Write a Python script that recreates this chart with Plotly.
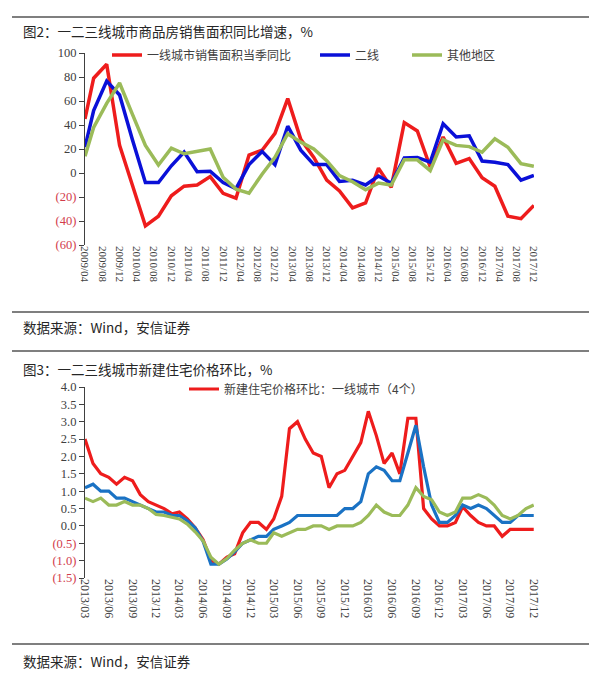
import plotly.graph_objects as go
import pandas as pd

W, H = 600, 677

# ---------------- Figure 2 data (quarterly, % YoY) ----------------
TOP_DATES = ["2009-04", "2009-06", "2009-09", "2009-12", "2010-03", "2010-06", "2010-09", "2010-12",
             "2011-03", "2011-06", "2011-09", "2011-12", "2012-03", "2012-06", "2012-09", "2012-12",
             "2013-03", "2013-06", "2013-09", "2013-12", "2014-03", "2014-06", "2014-09", "2014-12",
             "2015-03", "2015-06", "2015-09", "2015-12", "2016-03", "2016-06", "2016-09", "2016-12",
             "2017-03", "2017-06", "2017-09", "2017-12"]
TOP_TIER1 = [45, 79, 90.6, 23, -10, -44, -36, -19, -11, -10, -3, -17, -21, 15, 19, 33,
             62, 28, 13, -6, -15, -29, -25, 4, -12, 42, 35, 5, 30, 8, 12, -4, -11, -36, -38, -27]
TOP_TIER2 = [21.5, 52, 76.6, 65, 28, -8, -8, 6, 17.5, 1, 1.5, -8, -13, 7, 18, 7,
             39, 19, 7, 7, -7, -6, -10, -2.5, -8.5, 12.6, 13, 9, 41, 30, 31, 10, 9, 7, -6, -2]
TOP_OTHER = [14, 38, 58, 75, 49, 23, 6.7, 20.7, 16, 18, 20, -3.6, -13.4, -16.8, -1, 13,
             32.7, 25.7, 20, 10.3, -2.2, -7.3, -14, -8.4, -10, 11, 11, 2, 27.7, 23, 22, 17.3,
             28.5, 21.5, 7.8, 5.6]
TOP_NAMES = ["一线城市销售面积当季同比", "二线", "其他地区"]
TOP_Y_TICKS = [-60, -40, -20, 0, 20, 40, 60, 80, 100]
TOP_Y_LABELS = ["(60)", "(40)", "(20)", "0", "20", "40", "60", "80", "100"]
TOP_X_START, TOP_X_END = "2009-04-01", "2017-12-02"

# ---------------- Figure 3 data (monthly, % MoM) ----------------
BOT_DATES = [d.strftime("%Y-%m") for d in pd.date_range("2013-03-01", "2017-12-01", freq="MS")]
BOT_TIER1 = [2.5, 1.8, 1.5, 1.4, 1.2, 1.4, 1.3, 0.9, 0.7, 0.6, 0.5, 0.35, 0.4, 0.2, -0.05, -0.4,
             -1.0, -1.1, -0.9, -0.8, -0.2, 0.1, 0.1, -0.1, 0.2, 0.85, 2.8, 3.0, 2.5, 2.1, 2.0, 1.1,
             1.5, 1.6, 2.0, 2.4, 3.3, 2.6, 1.8, 2.1, 1.5, 3.1, 3.1, 0.5, 0.2, 0.0, 0.0, 0.1,
             0.55, 0.3, 0.1, 0.0, 0.0, -0.3, -0.1, -0.1, -0.1, -0.1]
BOT_TIER2 = [1.1, 1.2, 1.0, 1.0, 0.8, 0.8, 0.7, 0.6, 0.5, 0.4, 0.4, 0.3, 0.3, 0.15, -0.05, -0.45,
             -1.1, -1.1, -0.95, -0.75, -0.5, -0.4, -0.3, -0.3, -0.1, 0.0, 0.1, 0.3, 0.3, 0.3, 0.3, 0.3,
             0.3, 0.5, 0.5, 0.7, 1.5, 1.7, 1.6, 1.3, 1.3, 2.1, 2.9, 1.7, 0.6, 0.1, 0.1, 0.3,
             0.6, 0.5, 0.6, 0.5, 0.3, 0.1, 0.1, 0.3, 0.3, 0.3]
BOT_TIER3 = [0.8, 0.7, 0.8, 0.6, 0.6, 0.7, 0.6, 0.6, 0.5, 0.33, 0.3, 0.25, 0.2, 0.05, -0.17, -0.43,
             -0.9, -1.1, -0.94, -0.7, -0.5, -0.4, -0.5, -0.5, -0.2, -0.3, -0.2, -0.1, -0.1, 0.0, 0.0, -0.1,
             0.0, 0.0, 0.0, 0.1, 0.3, 0.6, 0.4, 0.3, 0.3, 0.6, 1.1, 0.85, 0.75, 0.4, 0.3, 0.4,
             0.8, 0.8, 0.9, 0.8, 0.6, 0.3, 0.2, 0.3, 0.5, 0.6]
BOT_NAMES = ["新建住宅价格环比：一线城市（4个）", "二线城市", "三线城市"]
BOT_Y_TICKS = [-1.5, -1.0, -0.5, 0.0, 0.5, 1.0, 1.5, 2.0, 2.5, 3.0, 3.5, 4.0]
BOT_Y_LABELS = ["(1.5)", "(1.0)", "(0.5)", "0.0", "0.5", "1.0", "1.5", "2.0", "2.5", "3.0", "3.5", "4.0"]
BOT_X_START, BOT_X_END = "2013-03-01", "2017-12-02"

TITLE_TOP = "图2：一二三线城市商品房销售面积同比增速，%"
TITLE_BOT = "图3：一二三线城市新建住宅价格环比，%"
SOURCE = "数据来源：Wind，安信证券"

# ---------------- styling ----------------
RED, BLUE, GREEN = "#EE1C1C", "#0A10D8", "#9BBB59"
BLUE2 = "#1A72C4"
AXIS = "#404040"
NEG = "#D23C4B"
CJK = "Noto Sans CJK SC"
SERIF = "Liberation Serif"


def fx(p):
    return p / W


def fy(p):
    return 1 - p / H


def colored(labels, ticks):
    return [f'<span style="color:{NEG if t < 0 else AXIS}">{l}</span>' for l, t in zip(labels, ticks)]


top_dom = [fy(245), fy(53)]
bot_dom = [fy(578), fy(387)]
x_dom = [fx(85), fx(534)]
top_rng = [TOP_Y_TICKS[0], TOP_Y_TICKS[-1]]
bot_rng = [BOT_Y_TICKS[0], BOT_Y_TICKS[-1]]
top_zero = top_dom[0] + (0 - top_rng[0]) / (top_rng[1] - top_rng[0]) * (top_dom[1] - top_dom[0])
bot_zero = bot_dom[0] + (0 - bot_rng[0]) / (bot_rng[1] - bot_rng[0]) * (bot_dom[1] - bot_dom[0])

fig = go.Figure()
for vals, name, color, leg in zip([TOP_TIER1, TOP_TIER2, TOP_OTHER], TOP_NAMES,
                                  [RED, BLUE, GREEN], ["legend", "legend3", "legend4"]):
    fig.add_trace(go.Scatter(x=TOP_DATES, y=vals, name=name, mode="lines",
                             line=dict(color=color, width=3.5), xaxis="x", yaxis="y", legend=leg))
for vals, name, color, show in zip([BOT_TIER1, BOT_TIER2, BOT_TIER3], BOT_NAMES,
                                   [RED, BLUE2, GREEN], [True, False, False]):
    fig.add_trace(go.Scatter(x=BOT_DATES, y=vals, name=name, mode="lines", showlegend=show,
                             line=dict(color=color, width=3.2), xaxis="x2", yaxis="y2", legend="legend2"))

xlab_common = dict(type="date", tickformat="%Y/%m", tickangle=90, ticks="", showline=False,
                   showgrid=False, zeroline=False, automargin=False, fixedrange=True)
xzero_common = dict(type="date", showticklabels=False, ticks="outside", ticklen=5, tickwidth=1,
                    tickcolor=AXIS, showline=True, linecolor=AXIS, linewidth=1.2, showgrid=False,
                    zeroline=False, anchor="free", automargin=False)
y_common = dict(ticks="outside", ticklen=5, tickwidth=1, tickcolor=AXIS, showline=True,
                linecolor=AXIS, linewidth=1.2, showgrid=False, zeroline=False, automargin=False,
                tickmode="array")

leg_common = dict(orientation="h", yanchor="middle", xanchor="left", bgcolor="rgba(0,0,0,0)",
                  font=dict(family=CJK, size=12, color=AXIS), itemwidth=30)

fig.update_layout(
    width=W, height=H, template="none",
    margin=dict(l=0, r=0, t=0, b=0),
    paper_bgcolor="white", plot_bgcolor="white",
    xaxis=dict(domain=x_dom, anchor="y", range=[TOP_X_START, TOP_X_END], tick0="2009-04-01",
               dtick="M4", tickfont=dict(family=SERIF, size=11, color=AXIS), **xlab_common),
    xaxis3=dict(overlaying="x", position=top_zero, range=[TOP_X_START, TOP_X_END],
                tick0="2009-04-01", dtick="M4", **xzero_common),
    yaxis=dict(domain=top_dom, anchor="x", range=top_rng, tickvals=TOP_Y_TICKS,
               ticktext=colored(TOP_Y_LABELS, TOP_Y_TICKS),
               tickfont=dict(family=SERIF, size=12.5, color=AXIS), **y_common),
    xaxis2=dict(domain=x_dom, anchor="y2", range=[BOT_X_START, BOT_X_END], tick0="2013-03-01",
                dtick="M3", tickfont=dict(family=SERIF, size=12, color=AXIS), **xlab_common),
    xaxis4=dict(overlaying="x2", position=bot_zero, range=[BOT_X_START, BOT_X_END],
                tick0="2013-03-01", dtick="M3", **xzero_common),
    yaxis2=dict(domain=bot_dom, anchor="x2", range=bot_rng, tickvals=BOT_Y_TICKS,
                ticktext=colored(BOT_Y_LABELS, BOT_Y_TICKS),
                tickfont=dict(family=SERIF, size=12.5, color=AXIS), **y_common),
    legend=dict(x=fx(107), y=fy(55), **leg_common),
    legend3=dict(x=fx(315), y=fy(55), **leg_common),
    legend4=dict(x=fx(407), y=fy(55), **leg_common),
    legend2=dict(x=fx(184), y=fy(389), **leg_common),
    showlegend=True,
)

for yy in [17, 312, 351, 644]:
    fig.add_shape(type="line", xref="paper", yref="paper", x0=fx(12), x1=fx(589),
                  y0=fy(yy), y1=fy(yy), line=dict(color="#555555", width=1.5))

for text, yy in [(TITLE_TOP, 31), (SOURCE, 327), (TITLE_BOT, 369), (SOURCE, 661)]:
    fig.add_annotation(text=text, xref="paper", yref="paper", x=fx(21), y=fy(yy),
                       xanchor="left", yanchor="middle", showarrow=False,
                       font=dict(family=CJK, size=13.5, color="#262626"))

fig.write_html("out.html", config={"displayModeBar": False},
               post_script="document.body.style.margin='0px';document.body.style.overflow='hidden';")
